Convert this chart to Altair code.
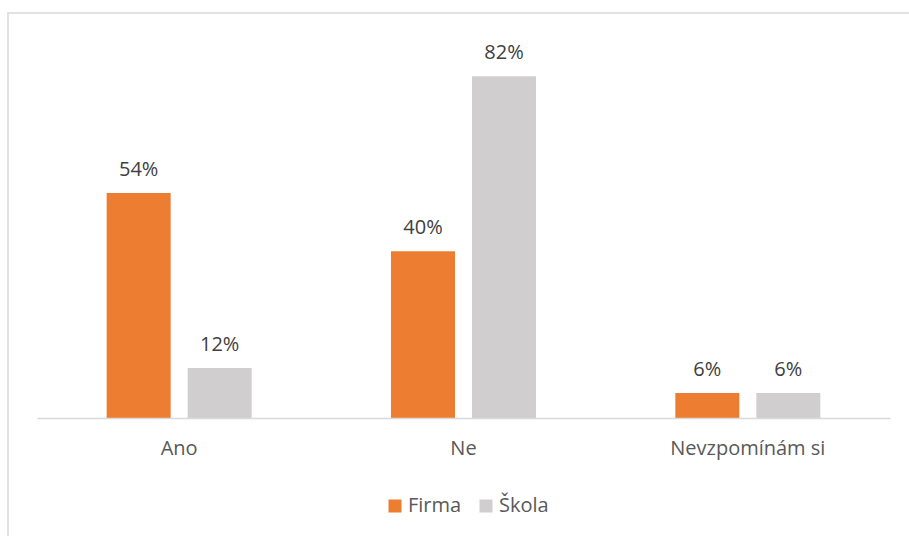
import altair as alt
import pandas as pd

categories = ["Ano", "Ne", "Nevzpomínám si"]
series = ["Firma", "Škola"]
firma = [0.54, 0.40, 0.06]
skola = [0.12, 0.82, 0.06]
colors = ["#ED7D31", "#D0CECE"]

rows = []
for c, f, s in zip(categories, firma, skola):
    rows.append({"kat": c, "serie": "Firma", "val": f})
    rows.append({"kat": c, "serie": "Škola", "val": s})
df = pd.DataFrame(rows)

FONT = "Open Sans"
FS = 20

x = alt.X("kat:N", sort=categories, title=None,
          scale=alt.Scale(paddingInner=0, paddingOuter=0),
          axis=alt.Axis(labelAngle=0, ticks=False, labelPadding=20, zindex=1,
                        labelFontSize=FS, labelColor="#595959", labelFont=FONT,
                        domainColor="#D9D9D9", domainWidth=1.5))
xo = alt.XOffset("serie:N", sort=series,
                 scale=alt.Scale(paddingInner=0.21, paddingOuter=0.86))
y = alt.Y("val:Q", scale=alt.Scale(domain=[0, 0.9]), axis=None)

frame = alt.Chart(pd.DataFrame({"a": [0]})).mark_rect(
    fill="white", stroke="#D9D9D9", strokeWidth=1.5
).encode(x=alt.value(-29), x2=alt.value(1000), y=alt.value(-30), y2=alt.value(600))

bars = alt.Chart(df).mark_bar().encode(
    x=x, xOffset=xo, y=y,
    color=alt.Color("serie:N", sort=series,
                    scale=alt.Scale(domain=series, range=colors),
                    legend=alt.Legend(title=None, orient="none", direction="horizontal",
                                      legendX=348, legendY=453, zindex=1,
                                      symbolType="square", symbolSize=169,
                                      symbolStrokeWidth=0,
                                      labelFontSize=FS, labelFont=FONT,
                                      labelColor="#595959", columnPadding=14,
                                      labelOffset=3)),
)

labels = alt.Chart(df).mark_text(
    dy=-17, baseline="alphabetic", fontSize=FS, font=FONT, color="#404040"
).encode(x=x, xOffset=xo, y=y, text=alt.Text("val:Q", format=".0%"))

chart = alt.layer(frame, bars, labels).properties(
    width=853, height=375,
    autosize=alt.AutoSizeParams(type="none"),
    padding={"left": 37, "top": 43, "right": 19, "bottom": 118},
    background="white",
).configure_view(stroke=None)

chart.save("out.html", embed_options={"renderer": "svg", "actions": False})
